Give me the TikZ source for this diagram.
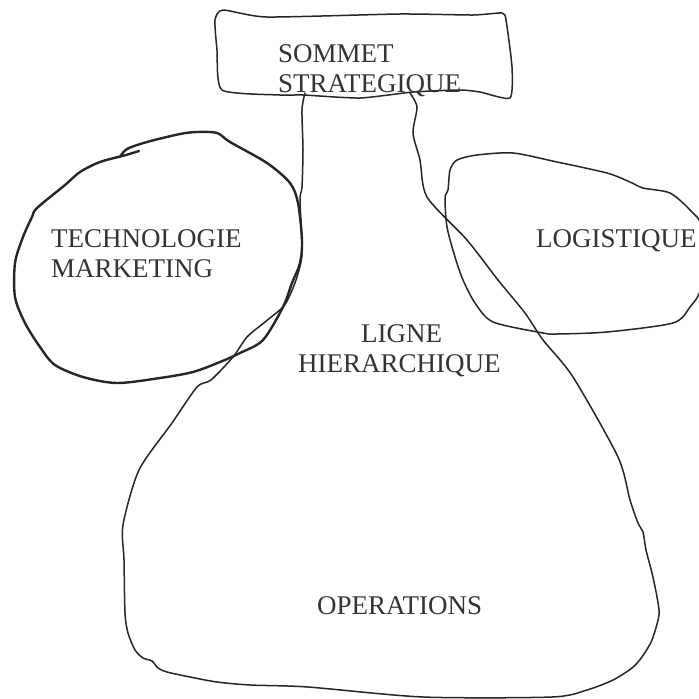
\documentclass[tikz,border=0pt]{standalone}
\usepackage{fontspec}
\setmainfont{Liberation Serif}
\begin{document}
\begin{tikzpicture}[x=1pt,y=-1pt,
  ink/.style={draw=black!85, line width=1.5pt, line join=round, line cap=round},
  thick ink/.style={draw=black!85, line width=2.4pt, line join=round, line cap=round},
  lbl/.style={anchor=base west, inner sep=0pt, text=black!80, font=\fontsize{27pt}{30pt}\selectfont}]
\useasboundingbox (0,0) rectangle (699,699);
\fill[white] (0,0) rectangle (699,699);

% Sommet strategique box
\draw[ink] plot[smooth cycle, tension=0.35] coordinates {
  (223,10) (267,17) (400,14) (473,15) (502,13) (506,20) (512,67) (510,98)
  (480,92) (460,90) (413,92) (360,98) (303,95) (280,95) (222,90) (217,50) (215,20)};

% Bottle (ligne hierarchique + operations)
\draw[ink] plot[smooth, tension=0.45] coordinates {
  (305,93) (302,110) (303,150) (302,187) (300,200) (302,253) (297,277) (290,295)
  (283,307) (265,322) (247,337) (233,357) (211,380) (197,387) (172,423) (139,470)
  (123,525) (124,560) (125,613) (128,633) (135,650) (143,658) (152,661) (158,668)
  (167,672) (190,677) (217,682) (250,685) (308,687) (423,697) (552,697) (587,690)
  (613,680) (632,668) (642,657) (652,640) (659,615) (657,597) (652,573) (646,550)
  (643,532) (638,523) (630,500) (618,457) (573,377) (543,340) (525,313) (498,280)
  (467,240) (427,197) (420,160) (413,133) (417,107) (410,93)};

% Technologie / marketing circle
\draw[thick ink] plot[smooth, tension=0.5] coordinates {
  (139,151) (126,155) (100,162) (80,172) (65,185) (37,208) (32,217) (23,237)
  (15,263) (15,297) (25,323) (40,347) (55,365) (83,377) (117,383) (160,378)
  (193,372) (220,362) (240,353) (263,340) (283,307) (292,283) (300,263) (302,240)
  (298,203) (290,183) (267,163) (230,142) (217,133) (197,132) (180,134) (147,142)
  (127,149) (120,157)};

% Logistique blob
\draw[ink] plot[smooth cycle, tension=0.45] coordinates {
  (457,160) (477,155) (513,153) (557,162) (607,173) (630,182) (643,188) (670,193)
  (690,210) (702,228) (701,287) (690,307) (673,323) (607,332) (557,334) (543,333)
  (493,322) (475,303) (463,280) (455,257) (447,227) (445,198) (448,190) (450,170)};

% Labels
\node[lbl] (s1) at (278,62) {SOMMET};
\node[lbl] (s2) at (278,92) {STRATEGIQUE};
\node[lbl] (t1) at (51,247) {TECHNOLOGIE};
\node[lbl] (t2) at (51,277) {MARKETING};
\node[lbl] (lo) at (536,247) {LOGISTIQUE};
\node[lbl] (l1) at (361,342) {LIGNE};
\node[lbl] (l2) at (298,372) {HIERARCHIQUE};
\node[lbl] (op) at (317,614) {OPERATIONS};
\end{tikzpicture}
\end{document}
